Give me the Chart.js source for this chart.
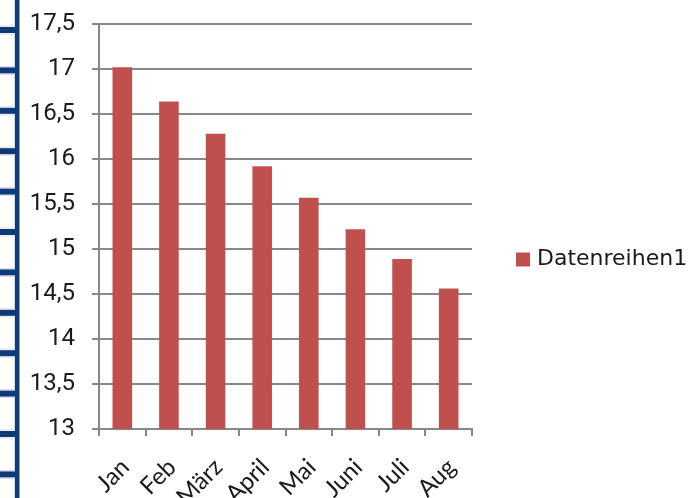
<!DOCTYPE html>
<html>
<head>
<meta charset="utf-8">
<script src="https://cdn.jsdelivr.net/npm/chart.js@4/dist/chart.umd.min.js"></script>
<style>
  html, body { margin: 0; padding: 0; background: #ffffff; }
  #wrap { width: 700px; height: 498px; position: relative; }
</style>
</head>
<body>
<div id="wrap"><canvas id="c" width="700" height="498"></canvas></div>
<script>
// Monthly values of the single series
const months = ['Jan', 'Feb', 'März', 'April', 'Mai', 'Juni', 'Juli', 'Aug'];
const values = [17.02, 16.64, 16.28, 15.92, 15.57, 15.22, 14.89, 14.56];
const seriesName = 'Datenreihen1';
const yTicks = [13, 13.5, 14, 14.5, 15, 15.5, 16, 16.5, 17, 17.5];

const BAR = '#c0504d';
const GRID = '#888888';

// Blue binding strip along the left edge of the page
const bindingStrip = {
  id: 'bindingStrip',
  beforeDraw(chart) {
    const ctx = chart.ctx;
    ctx.save();
    const navy = '#0f3a78';
    const bands = [];
    for (let i = 0; i < 12; i++) bands.push(30 + i * 40.4);
    // cells between the bands
    ctx.strokeStyle = '#d3dae6';
    ctx.lineWidth = 1;
    let prev = -10;
    bands.concat([540]).forEach(b => {
      const top = prev + 3.5;
      const bottom = b - 3.5;
      ctx.strokeRect(-2, top + 0.5, 16.5, bottom - top - 1);
      prev = b;
    });
    ctx.fillStyle = navy;
    bands.forEach(b => ctx.fillRect(0, b - 3, 16, 6));
    ctx.fillRect(15, 0, 4.5, 498);
    ctx.restore();
  }
};

// Legend entry drawn to the right of the plot
const sideLegend = {
  id: 'sideLegend',
  afterDraw(chart) {
    const ctx = chart.ctx;
    const ds = chart.data.datasets[0];
    ctx.save();
    ctx.fillStyle = ds.backgroundColor;
    ctx.fillRect(516, 252.5, 14, 14);
    ctx.fillStyle = '#1a1a1a';
    ctx.font = '22px "DejaVu Sans"';
    ctx.textBaseline = 'middle';
    ctx.textAlign = 'left';
    ctx.fillText(ds.label, 537, 259.5);
    ctx.restore();
  }
};

new Chart(document.getElementById('c'), {
  type: 'bar',
  data: {
    labels: months,
    datasets: [{
      label: seriesName,
      data: values,
      backgroundColor: BAR,
      borderWidth: 0,
      categoryPercentage: 1,
      barPercentage: 0.42
    }]
  },
  options: {
    responsive: false,
    animation: false,
    events: [],
    layout: { padding: { top: 24, right: 228, bottom: 0, left: 0 } },
    plugins: { legend: { display: false }, tooltip: { enabled: false } },
    scales: {
      x: {
        afterFit(scale) { scale.height = 69; },
        grid: {
          offset: true,
          drawOnChartArea: false,
          drawTicks: true,
          tickLength: 7,
          color: GRID,
          lineWidth: 2
        },
        border: { color: GRID, width: 2 },
        ticks: {
          minRotation: 45,
          maxRotation: 45,
          padding: 17,
          labelOffset: 3,
          color: '#1a1a1a',
          font: { family: 'Lato', size: 24 }
        }
      },
      y: {
        min: 13,
        max: 17.5,
        afterFit(scale) {
          scale.width = 99;
          scale.paddingTop = 8;
          scale.paddingBottom = 8;
        },
        afterBuildTicks(scale) { scale.ticks = yTicks.map(v => ({ value: v })); },
        grid: {
          color: GRID,
          lineWidth: 2,
          tickLength: 7
        },
        border: { color: GRID, width: 2 },
        ticks: {
          padding: 17,
          color: '#1a1a1a',
          font: { family: 'Roboto', size: 24 },
          callback: v => String(v).replace('.', ',')
        }
      }
    }
  },
  plugins: [bindingStrip, sideLegend]
});
</script>
</body>
</html>
